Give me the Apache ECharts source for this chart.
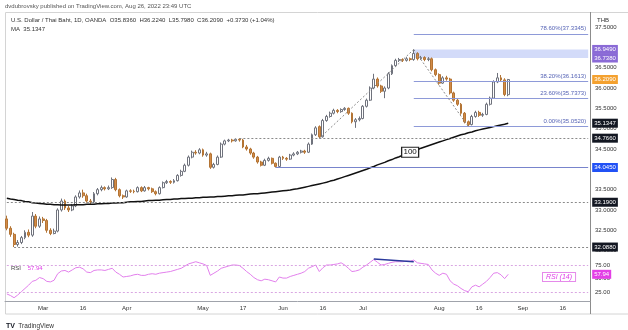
<!DOCTYPE html>
<html><head><meta charset="utf-8">
<script src="https://cdn.jsdelivr.net/npm/echarts@6/dist/echarts.min.js"></script>
<style>html,body{margin:0;padding:0;background:#fff}#c{width:628px;height:330px}</style>
</head><body><div id="c"></div>
<script>
const startDate = '2022-02-15', endDate = '2022-09-27';
function weekdays(a, b) {
  const out = []; let d = new Date(a + 'T00:00:00Z'); const e = new Date(b + 'T00:00:00Z');
  while (d <= e) { const w = d.getUTCDay(); if (w !== 0 && w !== 6) out.push(d.toISOString().slice(0, 10)); d = new Date(d.getTime() + 86400000); }
  return out;
}
const dates = weekdays(startDate, endDate);
const tickLabels = [['2022-03-01','Mar'],['2022-03-16','16'],['2022-04-01','Apr'],['2022-05-02','May'],['2022-05-17','17'],['2022-06-01','Jun'],['2022-06-16','16'],['2022-07-01','Jul'],['2022-08-01','Aug'],['2022-08-16','16'],['2022-09-01','Sep'],['2022-09-16','16']];
const priceTicks = [32, 32.5, 33, 33.5, 34, 34.5, 35, 35.5, 36, 36.5, 37, 37.5];
const rsiTicks = [25, 50, 75];
// [open, close, low, high]
const candles = [
[32.78,32.55,32.50,32.86],[32.55,32.40,32.34,32.60],[32.40,32.15,32.088,32.44],[32.15,32.20,32.10,32.26],[32.20,32.32,32.16,32.36],
[32.32,32.45,32.28,32.50],[32.45,32.38,32.33,32.52],[32.38,32.85,32.34,32.95],[32.85,32.60,32.55,32.90],[32.60,32.78,32.56,32.84],
[32.78,32.74,32.68,32.83],[32.74,32.50,32.44,32.78],[32.50,32.42,32.38,32.55],[32.42,32.48,32.40,32.54],[32.48,33.00,32.45,33.04],
[33.00,33.22,32.96,33.28],[33.22,33.05,33.00,33.26],[33.05,33.00,32.95,33.10],[33.00,33.10,32.97,33.15],[33.10,33.32,33.07,33.36],
[33.32,33.42,33.28,33.48],[33.42,33.35,33.30,33.50],[33.35,33.22,33.18,33.40],[33.22,33.20,33.15,33.27],[33.20,33.40,33.17,33.44],
[33.40,33.50,33.36,33.54],[33.50,33.55,33.46,33.60],[33.55,33.52,33.48,33.58],[33.52,33.55,33.49,33.60],[33.55,33.75,33.52,33.80],
[33.75,33.50,33.46,33.79],[33.50,33.35,33.31,33.53],[33.35,33.32,33.27,33.38],[33.32,33.47,33.30,33.50],[33.47,33.46,33.42,33.51],
[33.46,33.45,33.41,33.50],[33.45,33.55,33.43,33.58],[33.55,33.47,33.44,33.58],[33.47,33.55,33.45,33.59],[33.55,33.52,33.48,33.57],
[33.52,33.45,33.42,33.55],[33.45,33.40,33.36,33.48],[33.40,33.55,33.38,33.58],[33.55,33.67,33.53,33.70],[33.67,33.70,33.64,33.74],
[33.70,33.68,33.64,33.73],[33.68,33.72,33.65,33.76],[33.72,33.85,33.70,33.88],[33.85,33.95,33.82,33.99],[33.95,34.10,33.93,34.14],
[34.10,34.30,34.07,34.34],[34.30,34.42,34.27,34.46],[34.42,34.40,34.36,34.47],[34.40,34.48,34.37,34.52],[34.48,34.35,34.31,34.51],
[34.35,34.38,34.31,34.43],[34.38,34.05,34.01,34.41],[34.05,34.12,34.02,34.16],[34.12,34.30,34.10,34.34],[34.30,34.62,34.28,34.66],
[34.62,34.70,34.59,34.73],[34.70,34.72,34.67,34.75],[34.72,34.70,34.66,34.75],[34.70,34.74,34.68,34.76],[34.74,34.72,34.68,34.766],
[34.72,34.55,34.52,34.75],[34.55,34.50,34.46,34.60],[34.50,34.40,34.36,34.53],[34.40,34.30,34.26,34.43],[34.30,34.18,34.14,34.33],
[34.18,34.10,34.07,34.21],[34.10,34.22,34.08,34.26],[34.22,34.27,34.19,34.31],[34.27,34.15,34.12,34.29],[34.15,34.07,34.045,34.17],
[34.07,34.30,34.06,34.33],[34.30,34.27,34.23,34.33],[34.27,34.25,34.21,34.30],[34.25,34.35,34.23,34.38],[34.35,34.38,34.32,34.42],
[34.38,34.42,34.35,34.45],[34.42,34.45,34.39,34.48],[34.45,34.42,34.38,34.48],[34.42,34.62,34.40,34.66],[34.62,34.85,34.60,34.88],
[34.85,35.02,34.82,35.06],[35.05,34.80,34.76,35.08],[34.80,35.20,34.78,35.24],[35.20,35.30,35.17,35.34],[35.30,35.38,35.27,35.42],
[35.38,35.45,35.35,35.49],[35.45,35.42,35.38,35.48],[35.42,35.47,35.39,35.50],[35.47,35.50,35.44,35.53],[35.50,35.38,35.34,35.52],
[35.38,35.17,35.13,35.40],[35.17,35.22,35.02,35.26],[35.22,35.25,35.18,35.30],[35.25,35.55,35.23,35.58],[35.55,35.70,35.52,35.74],
[35.70,36.00,35.68,36.04],[36.00,36.22,35.97,36.35],[36.22,36.05,36.01,36.26],[36.05,35.92,35.88,36.08],[35.92,36.00,35.75,36.04],
[36.00,36.35,35.97,36.39],[36.35,36.55,36.32,36.58],[36.55,36.68,36.52,36.72],[36.68,36.70,36.64,36.74],[36.70,36.68,36.64,36.73],
[36.68,36.72,36.65,36.76],[36.72,36.70,36.66,36.75],[36.70,36.85,36.67,36.949],[36.85,36.72,36.68,36.88],[36.72,36.75,36.69,36.79],
[36.75,36.70,36.66,36.78],[36.70,36.72,36.66,36.76],[36.72,36.45,36.41,36.75],[36.45,36.33,36.29,36.48],[36.33,36.12,36.08,36.36],
[36.12,36.25,36.10,36.29],[36.25,36.22,36.18,36.30],[36.22,35.88,35.84,36.25],[35.88,35.70,35.66,35.91],[35.70,35.60,35.56,35.74],
[35.60,35.38,35.34,35.63],[35.38,35.17,35.13,35.41],[35.17,35.10,35.052,35.20],[35.10,35.30,35.08,35.34],[35.30,35.40,35.27,35.44],
[35.40,35.33,35.29,35.44],[35.33,35.35,35.29,35.39],[35.35,35.60,35.33,35.64],[35.60,35.75,35.57,35.79],[35.75,36.15,35.73,36.19],
[36.15,36.25,36.12,36.37],[36.25,36.20,36.15,36.32],[36.20,35.84,35.80,36.24],[35.836,36.209,35.798,36.224]
];
const maValues = [
33.29,33.27,33.26,33.24,33.23,33.21,33.20,33.18,33.17,33.16,
33.15,33.14,33.14,33.13,33.13,33.12,33.12,33.12,33.12,33.13,
33.13,33.13,33.14,33.14,33.14,33.15,33.15,33.16,33.16,33.17,
33.17,33.18,33.18,33.19,33.20,33.20,33.21,33.21,33.22,33.23,
33.23,33.24,33.24,33.25,33.26,33.26,33.27,33.27,33.28,33.28,
33.29,33.29,33.30,33.30,33.31,33.31,33.32,33.32,33.33,33.33,
33.34,33.35,33.35,33.36,33.37,33.37,33.38,33.39,33.40,33.40,
33.41,33.42,33.43,33.44,33.45,33.46,33.47,33.48,33.49,33.51,
33.52,33.54,33.56,33.58,33.60,33.62,33.64,33.66,33.68,33.71,
33.73,33.76,33.79,33.82,33.85,33.88,33.91,33.94,33.97,34.00,
34.04,34.07,34.11,34.14,34.17,34.21,34.24,34.28,34.31,34.35,
34.38,34.42,34.45,34.48,34.52,34.55,34.58,34.61,34.64,34.67,
34.70,34.73,34.76,34.79,34.82,34.85,34.87,34.90,34.92,34.95,
34.97,34.99,35.01,35.03,35.05,35.07,35.09,35.11,35.1347
];
const rsiValues = [
22,19,15,20,26,32,38,45,47,52,
50,45,44,47,59,64,65,62,66,70,
71,68,62,61,65,66,66,65,67,69,
62,58,53,54,55,57,58,56,56,58,
59,58,60,61,62,63,65,67,69,73,
77,79,81,79,77,74,56,60,64,69,
71,73,75,75,74,69,63,58,52,48,
46,49,48,46,44,53,51,51,54,56,
58,60,63,69,72,75,63,70,75,75,
76,77,79,75,69,63,64,66,71,75,
80,85,80,75,76,78,80,81,81,81,
82,82,84,79,78,77,76,66,60,56,
60,58,46,40,37,32,28,26,35,38,
35,40,45,52,60,61,57,50,57.94
];
const fibLevels = [[37.3345,'78.60%(37.3345)'],[36.1613,'38.20%(36.1613)'],[35.7373,'23.60%(35.7373)'],[35.052,'0.00%(35.0520)']];
const fibStart = 112;
const zone = [36.949, 36.738];
const lastClose = 36.209, maLast = 35.1347, rsiLast = 57.94;
// [value, start index, line style, tag colour]
const levels = [[34.766, 64, 'dash', '#131722'], [34.045, 74, 'solid', '#2151f5'], [33.19, 0, 'dash', '#131722'], [32.088, 2, 'dash', '#131722']];
const swingLines = [[86, 34.76, 112, 36.949], [112, 36.949, 127, 35.052]];
const rsiDivergence = [[101, 86], [112, 81]];

const F = '"Liberation Sans", Arial, sans-serif';
const last = dates[dates.length - 1];
const labelMap = {}; tickLabels.forEach(t => labelMap[t[0]] = t[1]);
function tag(bg, txt) {
  return { show: true, position: 'end', distance: 4, formatter: txt, backgroundColor: bg, color: '#fff',
    fontSize: 6, fontFamily: F, padding: [1, 2, 1, 2], lineHeight: 7 };
}
const hidden = { color: 'rgba(0,0,0,0)', width: 0 };
const priceMarks = [];
levels.forEach(l => {
  priceMarks.push([{ coord: [dates[l[1]], l[0]],
    lineStyle: l[2] === 'dash' ? { color: '#8a8a8a', type: [2, 2], width: 1 } : { color: '#7884cc', type: 'solid', width: 1 },
    label: tag(l[3], l[0].toFixed(4)) }, { coord: [last, l[0]] }]);
});
fibLevels.forEach(f => {
  priceMarks.push([{ coord: [dates[fibStart], f[0]], lineStyle: { color: '#8e9ad8', width: 1, type: 'solid' },
    label: { show: true, position: 'insideEndTop', formatter: f[1], color: '#5563b5', fontSize: 6, fontFamily: F, distance: 2 } },
    { coord: [last, f[0]] }]);
});
zone.forEach(z => priceMarks.push([{ coord: [dates[fibStart], z], lineStyle: hidden, label: tag('#8a6ad6', z.toFixed(4)) }, { coord: [last, z] }]));
priceMarks.push([{ coord: [dates[candles.length - 1], lastClose], lineStyle: hidden, label: tag('#f4a12f', lastClose.toFixed(4)) }, { coord: [last, lastClose] }]);
swingLines.forEach(s => priceMarks.push([{ coord: [dates[s[0]], s[1]], lineStyle: { color: '#8a8a8a', type: [2, 2], width: 1 } }, { coord: [dates[s[2]], s[3]] }]));

const option = {
  animation: false,
  textStyle: { fontFamily: F },
  grid: [
    { left: 5, right: 38, top: 12, height: 240 },
    { left: 5, right: 38, top: 253, height: 48 }
  ],
  xAxis: [
    { type: 'category', gridIndex: 0, data: dates, show: false, boundaryGap: true },
    { type: 'category', gridIndex: 1, data: dates, boundaryGap: true,
      axisLine: { show: true, lineStyle: { color: '#a0a3ab', width: 1 } }, axisTick: { show: false },
      axisLabel: { interval: (i, v) => labelMap[v] !== undefined, formatter: v => labelMap[v] || '', fontSize: 6, color: '#333', margin: 4, hideOverlap: false },
      splitLine: { show: false } }
  ],
  yAxis: [
    { type: 'value', gridIndex: 0, position: 'right', min: 31.966, max: 37.87, scale: true,
      axisLine: { show: false }, axisTick: { show: false }, splitLine: { show: false },
      axisLabel: { customValues: priceTicks, formatter: v => v.toFixed(4), fontSize: 6, color: '#333', margin: 5 } },
    { type: 'value', gridIndex: 1, position: 'right', min: 9, max: 97,
      axisLine: { show: false }, axisTick: { show: false }, splitLine: { show: false },
      axisLabel: { customValues: rsiTicks, formatter: v => v.toFixed(2), fontSize: 6, color: '#333', margin: 5 } }
  ],
  series: [
    { type: 'candlestick', xAxisIndex: 0, yAxisIndex: 0, data: candles.map(c => [c[0], c[1], c[2], c[3]]), barWidth: 2.4,
      itemStyle: { color: '#ffffff', borderColor: '#6f727c', color0: '#d38b48', borderColor0: '#b37434', borderWidth: 1 },
      markLine: { silent: true, symbol: ['none', 'none'], label: { show: false }, data: priceMarks },
      markArea: { silent: true, itemStyle: { color: 'rgba(140,160,240,0.38)' },
        data: [[{ coord: [dates[fibStart], zone[0]] }, { coord: [last, zone[1]] }]] }
    },
    { type: 'line', xAxisIndex: 0, yAxisIndex: 0, data: maValues, symbol: 'none', lineStyle: { color: '#111', width: 1.5 },
      markPoint: { silent: true, data: [{ coord: [dates[111], maValues[111]], symbol: 'rect', symbolSize: [17, 10],
        itemStyle: { color: '#fff', borderColor: '#222', borderWidth: 1 },
        label: { show: true, position: 'inside', formatter: '100', color: '#111', fontSize: 8, fontFamily: F } }] },
      markLine: { silent: true, symbol: ['none', 'none'], label: { show: false },
        data: [[{ coord: [dates[maValues.length - 1], maLast], lineStyle: hidden, label: tag('#131722', maLast.toFixed(4)) }, { coord: [last, maLast] }]] }
    },
    { type: 'line', xAxisIndex: 1, yAxisIndex: 1, data: rsiValues, symbol: 'none', lineStyle: { color: '#e27fec', width: 1 },
      markLine: { silent: true, symbol: ['none', 'none'], label: { show: false },
        data: [
          [{ coord: [dates[0], 75], lineStyle: { color: '#d9a6e2', type: [2, 2], width: 1 } }, { coord: [last, 75] }],
          [{ coord: [dates[0], 25], lineStyle: { color: '#d9a6e2', type: [2, 2], width: 1 } }, { coord: [last, 25] }],
          [{ coord: [dates[rsiDivergence[0][0]], rsiDivergence[0][1]], lineStyle: { color: '#2b3a9c', type: 'solid', width: 1.5 } },
           { coord: [dates[rsiDivergence[1][0]], rsiDivergence[1][1]] }],
          [{ coord: [dates[rsiValues.length - 1], rsiLast], lineStyle: hidden, label: tag('#e33fe6', rsiLast.toFixed(2)) }, { coord: [last, rsiLast] }]
        ] }
    }
  ],
  graphic: [
    { type: 'rect', silent: true, z: -10, shape: { x: 5.5, y: 12.5, width: 640, height: 301.5 }, style: { fill: 'none', stroke: '#d4d4d4', lineWidth: 1 } },
    { type: 'line', silent: true, shape: { x1: 590.5, y1: 12, x2: 590.5, y2: 314 }, style: { stroke: '#8c8c8c', lineWidth: 1 } },
    { type: 'text', left: 5, top: 3, silent: true, style: { text: 'dvdubrovsky published on TradingView.com, Aug 26, 2022 23:49 UTC', fill: '#555', fontSize: 6, fontFamily: F } },
    { type: 'text', left: 11, top: 17, silent: true, style: { text: 'U.S. Dollar / Thai Baht, 1D, OANDA  O35.8360  H36.2240  L35.7980  C36.2090  +0.3730 (+1.04%)', fill: '#333', fontSize: 6, fontFamily: F } },
    { type: 'text', left: 11, top: 26, silent: true, style: { text: 'MA  35.1347', fill: '#333', fontSize: 6, fontFamily: F } },
    { type: 'text', left: 597, top: 17, silent: true, style: { text: 'THB', fill: '#333', fontSize: 6, fontFamily: F } },
    { type: 'text', left: 11, top: 262, silent: true, style: { text: '{a|RSI}  {b|57.94}', rich: { a: { fill: '#444', fontSize: 6, fontFamily: F }, b: { fill: '#e040e8', fontSize: 6, fontFamily: F } } } },
    { type: 'text', left: 542, top: 272, silent: true, style: { text: 'RSI (14)', fill: '#e040e8', fontSize: 7, fontStyle: 'italic', fontFamily: F, backgroundColor: '#fff', borderColor: '#e58aea', borderWidth: 1, padding: [1, 3, 0, 3] } },
    { type: 'text', left: 6, top: 320, silent: true, style: { text: '{a|TV} {b|TradingView}', rich: { a: { fill: '#131722', fontSize: 7, fontWeight: 'bold', fontFamily: F }, b: { fill: '#333', fontSize: 6.5, fontFamily: F } } } }
  ]
};
const chart = echarts.init(document.getElementById('c'), null, { renderer: 'canvas' });
chart.setOption(option);
</script>
</body></html>
